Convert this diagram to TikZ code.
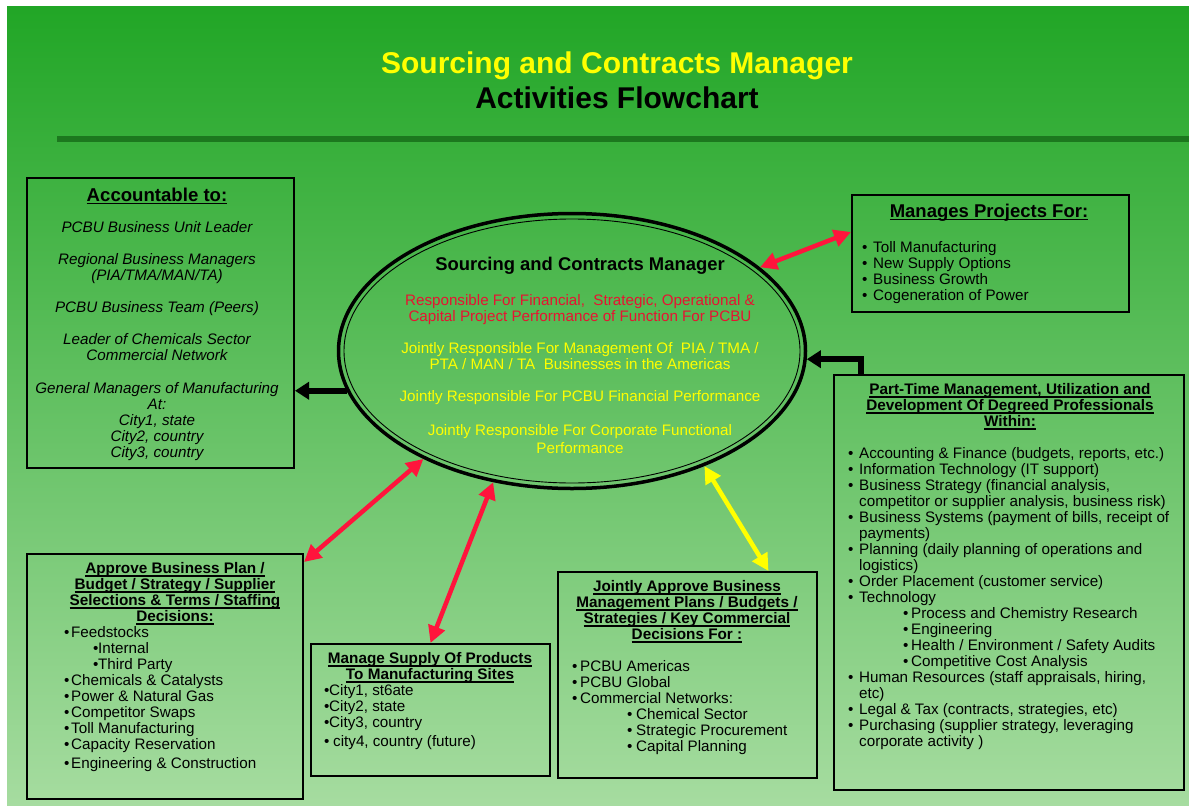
\documentclass[tikz,border=0pt]{standalone}
\usepackage{fontspec}
\setmainfont{Liberation Sans}
\usepackage{tikz}
\usetikzlibrary{shapes.geometric, arrows.meta}
\usepackage{xcolor}
\definecolor{bgtop}{RGB}{33,166,38}
\definecolor{bgbot}{RGB}{166,220,160}
\definecolor{riga}{RGB}{28,120,30}
\definecolor{rosso}{RGB}{255,20,60}
\definecolor{testorosso}{RGB}{230,20,50}
\definecolor{giallo}{RGB}{255,255,0}
\newcommand{\voce}[1][11pt]{\makebox[#1][l]{\textbullet}}
\newcommand{\rientro}{\hspace*{11pt}}
\newcommand{\sott}[1]{\leavevmode\setbox0=\hbox{#1}\rlap{\rule[-2.8pt]{\wd0}{1.1pt}}\box0}

\begin{document}
\begin{tikzpicture}[x=1pt, y=-1pt,
    box/.style={draw=black, line width=2pt, anchor=north west, inner sep=0pt},
    corpo/.style={inner sep=0pt, anchor=north west, align=left, font=\fontsize{15.2}{16}\selectfont},
    testa/.style={inner sep=0pt, anchor=north, align=center, font=\fontsize{15.3}{16}\selectfont\bfseries},
    doppia/.style={line width=4.5pt, {Triangle[length=17pt,width=17pt]}-{Triangle[length=17pt,width=17pt]}},
    nera/.style={line width=6pt, -{Triangle[length=14pt,width=17pt]}}]
    % Sfondo
    \useasboundingbox (0,0) rectangle (1189,806);
    \fill[white] (0,0) rectangle (1189,806);
    \shade[top color=bgtop, bottom color=bgbot] (7,6) rectangle (1189,806);
    % Titolo
    \node[anchor=base, inner sep=0pt, font=\fontsize{30}{32}\selectfont\bfseries, text=giallo] (titolo) at (617,73) {Sourcing and Contracts Manager};
    \node[anchor=base, inner sep=0pt, font=\fontsize{30}{32}\selectfont\bfseries] (sottotitolo) at (617,108) {Activities Flowchart};
    \fill[riga] (57,136) rectangle (1189,142);

    % Ellisse centrale
    \node[ellipse, draw=black, line width=3.5pt, minimum width=467pt, minimum height=275pt, inner sep=0pt] (scm) at (572,351) {};
    \draw[line width=0.9pt] (scm.center) ellipse [x radius=228pt, y radius=132pt];
    \node[testa, font=\fontsize{18.4}{20}\selectfont\bfseries] (scmtit) at (580,257) {Sourcing and Contracts Manager};
    \node[testa, font=\fontsize{15.2}{16}\selectfont, text=testorosso] (resp) at (580,294.5) {Responsible For Financial,\ \ Strategic, Operational \&\\Capital Project Performance of Function For PCBU};
    \node[testa, font=\fontsize{15.2}{16}\selectfont, text=giallo] (joint) at (580,342.5) {Jointly Responsible For Management Of\ \ PIA / TMA /\\PTA / MAN / TA\ \ Businesses in the Americas\\[16pt]Jointly Responsible For PCBU Financial Performance\\[18pt]Jointly Responsible For Corporate Functional\\[2pt]Performance};

    % Riquadri
    \node[box, minimum width=267pt, minimum height=290pt] (acc) at (26,177) {};
    \node[box, minimum width=277pt, minimum height=117pt] (prog) at (851,194) {};
    \node[box, minimum width=350pt, minimum height=415pt] (prof) at (833,374) {};
    \node[box, minimum width=276pt, minimum height=245pt] (piano) at (26,553) {};
    \node[box, minimum width=239pt, minimum height=132pt] (forn) at (310,643) {};
    \node[box, minimum width=259pt, minimum height=206pt] (cong) at (557,571) {};

    % Accountable to
    \node[testa, font=\fontsize{18.6}{20}\selectfont\bfseries] (acctit) at (157,187.5) {\sott{Accountable to:}};
    \node[testa, font=\fontsize{15.2}{16}\selectfont\itshape] (acctxt) at (157,221.5) {PCBU Business Unit Leader\\[16pt]Regional Business Managers\\(PIA/TMA/MAN/TA)\\[16pt]PCBU Business Team (Peers)\\[16pt]Leader of Chemicals Sector\\Commercial Network\\[17pt]General Managers of Manufacturing\\At:\\City1, state\\City2, country\\City3, country};

    % Manages projects
    \node[testa, font=\fontsize{18.5}{20}\selectfont\bfseries] (progtit) at (989,204) {\sott{Manages Projects For:}};
    \node[corpo] (progtxt) at (862,241.5) {\voce Toll Manufacturing\\\voce New Supply Options\\\voce Business Growth\\\voce Cogeneration of Power};

    % Part-time
    \node[testa] (proftit) at (1010,383.5) {\sott{Part-Time Management, Utilization and}\\\sott{Development Of Degreed Professionals}\\\sott{Within:}};
    \node[corpo] (proftxt) at (848,447.5) {\voce Accounting \& Finance (budgets, reports, etc.)\\
        \voce Information Technology (IT support)\\
        \voce Business Strategy (financial analysis,\\
        \rientro competitor or supplier analysis, business risk)\\
        \voce Business Systems (payment of bills, receipt of\\
        \rientro payments)\\
        \voce Planning (daily planning of operations and\\
        \rientro logistics)\\
        \voce Order Placement (customer service)\\
        \voce Technology\\
        \hspace*{55pt}\voce[8pt]Process and Chemistry Research\\
        \hspace*{55pt}\voce[8pt]Engineering\\
        \hspace*{55pt}\voce[8pt]Health / Environment / Safety Audits\\
        \hspace*{55pt}\voce[8pt]Competitive Cost Analysis\\
        \voce Human Resources (staff appraisals, hiring,\\
        \rientro etc)\\
        \voce Legal \& Tax (contracts, strategies, etc)\\
        \voce Purchasing (supplier strategy, leveraging\\
        \rientro corporate activity )};

    % Approve
    \node[testa] (pianotit) at (175,562.5) {\sott{Approve Business Plan /}\\\sott{Budget / Strategy / Supplier}\\\sott{Selections \& Terms / Staffing}\\\sott{Decisions:}};
    \node[corpo] (pianotxt) at (64,626.5) {\voce[7pt]Feedstocks\\
        \hspace*{29pt}\voce[5pt]Internal\\
        \hspace*{29pt}\voce[5pt]Third Party\\
        \voce[7pt]Chemicals \& Catalysts\\
        \voce[7pt]Power \& Natural Gas\\
        \voce[7pt]Competitor Swaps\\
        \voce[7pt]Toll Manufacturing\\
        \voce[7pt]Capacity Reservation\\[3pt]
        \voce[7pt]Engineering \& Construction};

    % Supply
    \node[testa] (forntit) at (430,652.5) {\sott{Manage Supply Of Products}\\\sott{To Manufacturing Sites}};
    \node[corpo] (forntxt) at (324,684.5) {\voce[5pt]City1, st6ate\\\voce[5pt]City2, state\\\voce[5pt]City3, country\\[3pt]\voce[9pt]city4, country (future)};

    % Jointly approve
    \node[testa] (congtit) at (687,580.5) {\sott{Jointly Approve Business}\\\sott{Management Plans / Budgets /}\\\sott{Strategies / Key Commercial}\\\sott{Decisions For :}};
    \node[corpo] (congtxt) at (572,660.5) {\voce[8pt]PCBU Americas\\\voce[8pt]PCBU Global\\\voce[8pt]Commercial Networks:\\
        \hspace*{55pt}\voce[9pt]Chemical Sector\\
        \hspace*{55pt}\voce[9pt]Strategic Procurement\\
        \hspace*{55pt}\voce[9pt]Capital Planning};

    % Frecce
    \draw[nera] (scm.190) -- (scm.190 -| acc.east);
    \draw[nera] ([xshift=28pt]prof.north west) |- (scm.358);
    \draw[doppia, rosso] (scm.24) -- ([yshift=-38pt]prog.north west);
    \draw[doppia, rosso] (scm.216) -- ([yshift=-9pt]piano.north east);
    \draw[doppia, rosso] (scm.239) -- (forn.north);
    \draw[doppia, giallo] (scm.319) -- ([xshift=81pt]cong.north);
\end{tikzpicture}
\end{document}
